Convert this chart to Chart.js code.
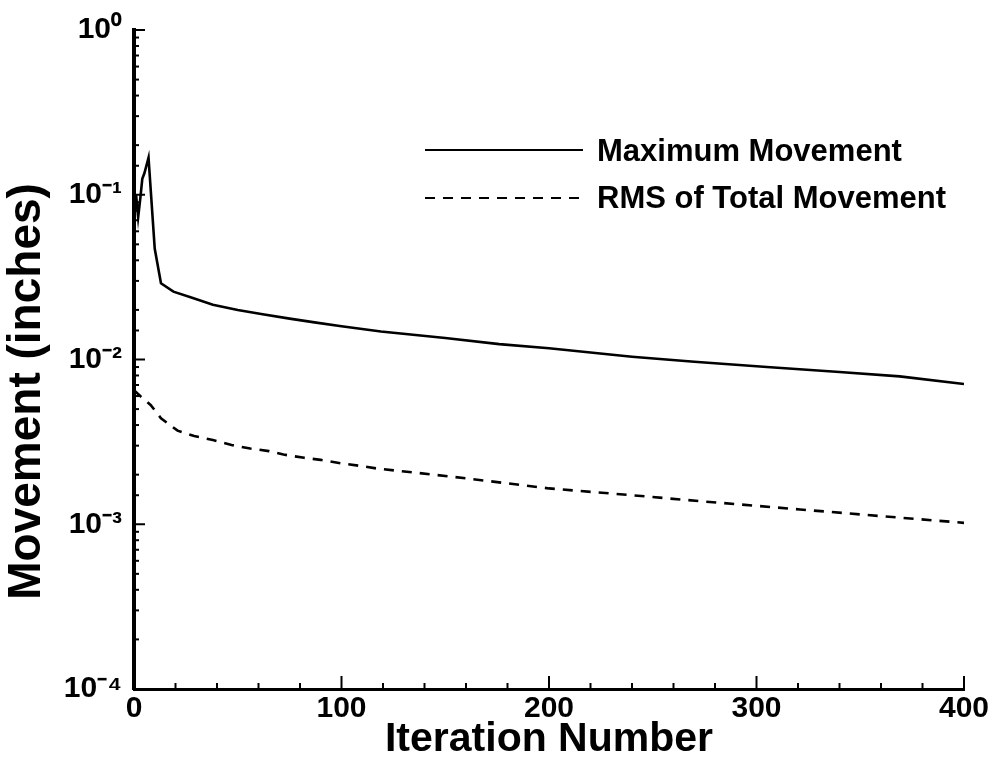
<!DOCTYPE html>
<html>
<head>
<meta charset="utf-8">
<script src="https://cdn.jsdelivr.net/npm/chart.js@4.4.1/dist/chart.umd.min.js"></script>
<style>
  html, body { margin: 0; padding: 0; background: #ffffff; overflow: hidden; }
  #c { display: block; }
</style>
</head>
<body>
<canvas id="c" width="993" height="768"></canvas>
<script>
// ---- data ----
const iterMax = [0, 1, 2, 3, 4, 5, 7, 10, 13, 19, 28, 38, 50, 62, 75, 87, 100, 119, 150, 176, 200, 240, 270, 305, 340, 369, 400];
const maxMovement = [0.072, 0.100, 0.073, 0.094, 0.125, 0.135, 0.168, 0.047, 0.029, 0.0258, 0.0237, 0.0215, 0.0200, 0.0188, 0.0177, 0.0168, 0.0159, 0.0148, 0.0135, 0.0124, 0.0117, 0.0104, 0.0097, 0.0090, 0.0084, 0.0079, 0.0071];

const iterRms = [0, 3, 8, 13, 21, 29, 38, 47, 56, 65, 72, 82, 90, 100, 108, 117, 127, 135, 160, 200, 240, 273, 321, 360, 400];
const rmsMovement = [0.0065, 0.0060, 0.0053, 0.0044, 0.0037, 0.00343, 0.00325, 0.00303, 0.00288, 0.00278, 0.00265, 0.00253, 0.00246, 0.00234, 0.00227, 0.00218, 0.00211, 0.00206, 0.0019, 0.00165, 0.0015, 0.00138, 0.00123, 0.00112, 0.00102];

const seriesLabels = ['Maximum Movement', 'RMS of Total Movement'];
const xTickLabels = ['0', '100', '200', '300', '400'];
const yTickLabels = ['10\u2070', '10\u207B\u00B9', '10\u207B\u00B2', '10\u207B\u00B3', '10\u207B\u2074'];
const xTitle = 'Iteration Number';
const yTitle = 'Movement (inches)';

const FONT = "'Liberation Sans', Arial, Helvetica, sans-serif";

function pairs(xs, ys) { return xs.map((x, i) => ({ x: x, y: ys[i] })); }

// inward tick marks drawn from the library's own scale ticks
const inwardTicks = {
  id: 'inwardTicks',
  afterDatasetsDraw(chart) {
    const ctx = chart.ctx, area = chart.chartArea;
    const xs = chart.scales.x, ys = chart.scales.y;
    ctx.save();
    ctx.strokeStyle = '#000';
    ctx.lineWidth = 2;
    xs.ticks.forEach(t => {
      const px = xs.getPixelForValue(t.value);
      const major = Math.abs(t.value % 100) < 1e-9;
      const len = major ? 13 : 6;
      ctx.beginPath();
      ctx.moveTo(px, area.bottom);
      ctx.lineTo(px, area.bottom - len);
      ctx.stroke();
    });
    ys.ticks.forEach(t => {
      const py = ys.getPixelForValue(t.value);
      const e = Math.log10(t.value);
      const major = Math.abs(e - Math.round(e)) < 1e-9;
      const len = major ? 11 : 5;
      ctx.beginPath();
      ctx.moveTo(area.left, py);
      ctx.lineTo(area.left + len, py);
      ctx.stroke();
    });
    ctx.restore();
  }
};

// legend drawn inside the plot, using the datasets' own labels and styles
const innerLegend = {
  id: 'innerLegend',
  afterDraw(chart) {
    const ctx = chart.ctx;
    const rows = [{ y: 150, ty: 152 }, { y: 198, ty: 199 }];
    ctx.save();
    chart.data.datasets.forEach((ds, i) => {
      const r = rows[i];
      ctx.strokeStyle = ds.borderColor;
      ctx.lineWidth = 2;
      ctx.setLineDash(ds.borderDash || []);
      ctx.beginPath();
      ctx.moveTo(425, r.y);
      ctx.lineTo(583, r.y);
      ctx.stroke();
      ctx.setLineDash([]);
      ctx.fillStyle = '#000';
      ctx.font = "bold 31px " + FONT;
      ctx.textBaseline = 'middle';
      ctx.textAlign = 'left';
      ctx.fillText(ds.label, 597, r.ty);
    });
    ctx.restore();
  }
};

const chart = new Chart(document.getElementById('c'), {
  type: 'line',
  data: {
    datasets: [
      {
        label: seriesLabels[0],
        data: pairs(iterMax, maxMovement),
        borderColor: '#000',
        borderWidth: 2.6,
        pointRadius: 0,
        tension: 0,
        fill: false
      },
      {
        label: seriesLabels[1],
        data: pairs(iterRms, rmsMovement),
        borderColor: '#000',
        borderWidth: 2.6,
        borderDash: [10, 8],
        pointRadius: 0,
        tension: 0,
        fill: false
      }
    ]
  },
  options: {
    responsive: false,
    animation: false,
    devicePixelRatio: 1,
    layout: { padding: { left: 0, right: 29, top: 24, bottom: 0 } },
    plugins: {
      legend: { display: false },
      tooltip: { enabled: false }
    },
    scales: {
      x: {
        type: 'linear',
        min: 0,
        max: 400,
        grid: { display: false, drawTicks: false },
        border: { display: true, color: '#000', width: 3 },
        ticks: {
          stepSize: 20,
          autoSkip: false,
          maxRotation: 0,
          padding: 2,
          color: '#000',
          font: { family: FONT, size: 30, weight: 'bold' },
          callback: (v) => {
            const k = xTickLabels.indexOf(String(v));
            return k >= 0 ? xTickLabels[k] : '';
          }
        },
        title: {
          display: true,
          text: xTitle,
          color: '#000',
          font: { family: FONT, size: 41, weight: 'bold' },
          padding: { top: 0, bottom: 4 }
        },
        afterFit: (s) => { s.height = 79; }
      },
      y: {
        type: 'logarithmic',
        min: 1e-4,
        max: 1,
        grid: { display: false, drawTicks: false },
        border: { display: true, color: '#000', width: 4 },
        ticks: {
          autoSkip: false,
          padding: 12,
          color: '#000',
          font: { family: FONT, size: 30, weight: 'bold' },
          callback: (v) => {
            const e = Math.log10(v);
            if (Math.abs(e - Math.round(e)) > 1e-9) return '';
            const k = -Math.round(e);
            return yTickLabels[k] !== undefined ? yTickLabels[k] : '';
          }
        },
        title: {
          display: true,
          // trailing spaces shift the rotated title toward the bottom, as in the reference
          text: yTitle + '     ',
          color: '#000',
          font: { family: FONT, size: 46, weight: 'bold' },
          padding: { top: 0, bottom: 0 }
        },
        afterFit: (s) => { s.width = 134; }
      }
    }
  },
  plugins: [inwardTicks, innerLegend]
});
</script>
</body>
</html>
